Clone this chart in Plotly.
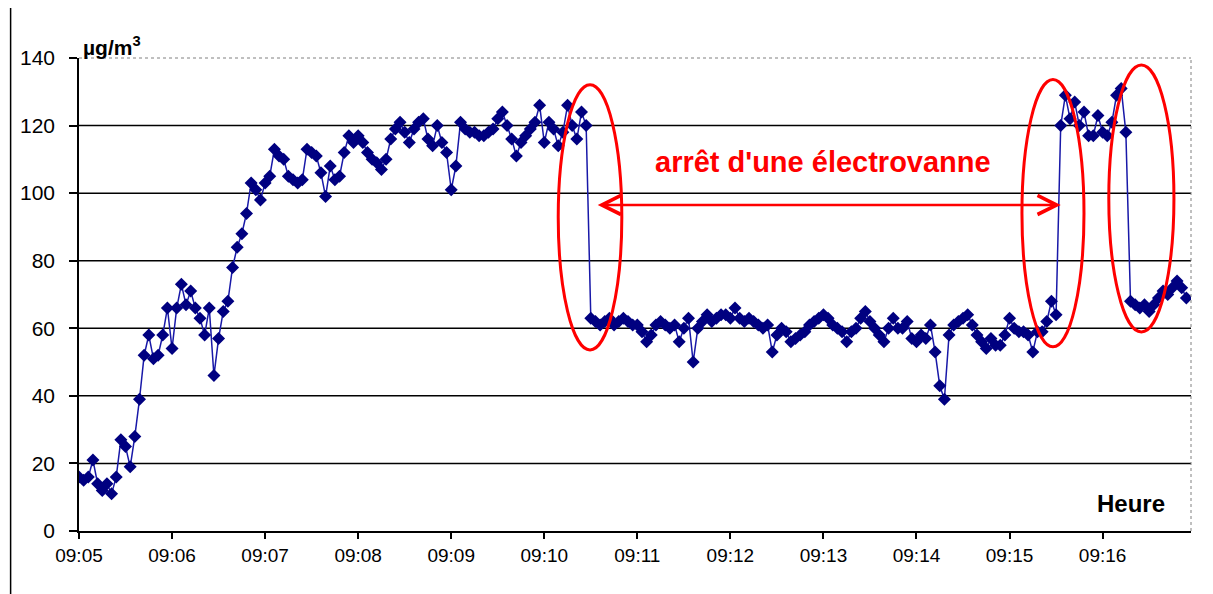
import numpy as np
import pandas as pd
import plotly.graph_objects as go

# Concentration readings (µg/m3), one every 3 s, grouped by minute
m0905 = [16, 15, 16, 21, 14, 12, 14, 11, 16, 27, 25, 19, 28, 39, 52, 58, 51, 52, 58, 66]
m0906 = [54, 66, 73, 67, 71, 66, 63, 58, 66, 46, 57, 65, 68, 78, 84, 88, 94, 103, 101, 98]
m0907 = [103, 105, 113, 111, 110, 105, 104, 103, 104, 113, 112, 111, 106, 99, 108, 104, 105, 112, 117, 115]
m0908 = [117, 115, 112, 110, 109, 107, 110, 116, 119, 121, 118, 115, 119, 121, 122, 116, 114, 120, 115, 112]
m0909 = [101, 108, 121, 119, 118, 118, 117, 117, 118, 119, 122, 124, 120, 116, 111, 115, 117, 119, 121, 126]
m0910 = [115, 121, 119, 114, 118, 126, 120, 116, 124, 120, 63, 62, 61, 62, 63, 61, 62, 63, 62, 61]
m0911 = [61, 59, 56, 58, 61, 62, 61, 60, 61, 56, 60, 63, 50, 60, 62, 64, 62, 63, 64, 64]
m0912 = [63, 66, 63, 62, 63, 62, 61, 60, 61, 53, 58, 60, 59, 56, 57, 58, 59, 61, 62, 63]
m0913 = [64, 63, 61, 60, 59, 56, 59, 60, 63, 65, 62, 60, 58, 56, 60, 63, 60, 60, 62, 57]
m0914 = [56, 58, 57, 61, 53, 43, 39, 58, 61, 62, 63, 64, 61, 58, 56, 54, 57, 55, 55, 58]
m0915 = [63, 60, 59, 59, 58, 53, 59, 59, 62, 68, 64, 120, 129, 122, 127, 120, 124, 117, 117, 123]
m0916 = [118, 117, 121, 129, 131, 118, 68, 67, 66, 67, 65, 67, 69, 71, 70, 72, 74, 72, 69]

start_time = "2024-01-01 09:05:00"
end_time = "2024-01-01 09:16:57"
step_seconds = 3
y_ticks = [0, 20, 40, 60, 80, 100, 120, 140]
grid_values = [20, 40, 60, 80, 100, 120]

values = m0905 + m0906 + m0907 + m0908 + m0909 + m0910 + m0911 + m0912 + m0913 + m0914 + m0915 + m0916
times = pd.Timestamp(start_time) + pd.to_timedelta(np.arange(len(values)) * step_seconds, unit="s")

FONT = "Liberation Sans, Arial, sans-serif"
NAVY = "#000080"
RED = "#ff0000"

fig = go.Figure()
fig.add_trace(go.Scatter(
    x=times, y=values, mode="lines+markers",
    line=dict(color="#1818a8", width=1.5),
    marker=dict(symbol="diamond", size=10, color=NAVY, line=dict(width=0)),
    showlegend=False, hoverinfo="skip",
))

shapes = []
for g in grid_values:
    shapes.append(dict(type="line", xref="paper", yref="y", x0=0, x1=1, y0=g, y1=g,
                       line=dict(color="black", width=1.5), layer="below"))
# dotted plot-area border (top and right)
shapes.append(dict(type="line", xref="paper", yref="paper", x0=0, x1=1, y0=1, y1=1,
                   line=dict(color="#808080", width=1, dash="dot")))
shapes.append(dict(type="line", xref="paper", yref="paper", x0=1, x1=1, y0=0, y1=1,
                   line=dict(color="#808080", width=1, dash="dot")))
# outer frame left edge
shapes.append(dict(type="line", xref="paper", yref="paper", x0=-0.0615, x1=-0.0615, y0=-0.16, y1=1.12,
                   line=dict(color="black", width=1.5)))
# red ellipses
ellipses = [
    ("2024-01-01 09:10:09", "2024-01-01 09:10:50", 53.6, 132.1),
    ("2024-01-01 09:15:08", "2024-01-01 09:15:48", 54.5, 133.6),
    ("2024-01-01 09:16:04", "2024-01-01 09:16:46", 58.9, 137.9),
]
for x0, x1, y0, y1 in ellipses:
    shapes.append(dict(type="circle", xref="x", yref="y", x0=x0, x1=x1, y0=y0, y1=y1,
                       line=dict(color=RED, width=3)))

annotations = [
    dict(x="2024-01-01 09:15:33", y=96.5, ax="2024-01-01 09:10:33.5", ay=96.5,
         xref="x", yref="y", axref="x", ayref="y", text="", showarrow=True,
         arrowside="end+start", arrowhead=5, startarrowhead=5, arrowsize=1.5,
         startarrowsize=1.5, arrowwidth=2.5, arrowcolor=RED, standoff=0, startstandoff=0),
    dict(x="2024-01-01 09:12:59.6", y=109.3, xref="x", yref="y",
         text="<b>arrêt d'une électrovanne</b>", showarrow=False,
         font=dict(family=FONT, size=29, color=RED), xanchor="center", yanchor="middle"),
    dict(x=0.0018, y=1.025, xref="paper", yref="paper", text="<b>µg/m<sup>3</sup></b>",
         showarrow=False, font=dict(family=FONT, size=21, color="black"),
         xanchor="left", yanchor="middle"),
    dict(x=0.946, y=0.059, xref="paper", yref="paper", text="<b>Heure</b>",
         showarrow=False, font=dict(family=FONT, size=24, color="black"),
         xanchor="center", yanchor="middle"),
]

# the page adds an 8 px body margin, so margins are set 8 px tighter on the left/top
fig.update_layout(
    width=1213, height=594,
    margin=dict(l=69, r=30, t=50, b=71),
    paper_bgcolor="white", plot_bgcolor="white",
    shapes=shapes, annotations=annotations,
    font=dict(family=FONT, color="black"),
)
fig.update_xaxes(
    type="date", range=[start_time, end_time], dtick=60000, tick0=start_time,
    tickformat="%H:%M", showgrid=False, zeroline=False,
    showline=True, linecolor="black", linewidth=1.5,
    ticks="outside", ticklen=6, tickwidth=1.5, tickcolor="black",
    tickfont=dict(family=FONT, size=19, color="black"),
)
fig.update_yaxes(
    range=[0, 140], tickvals=y_ticks, showgrid=False, zeroline=False,
    showline=True, linecolor="black", linewidth=1.5,
    ticks="outside", ticklen=8, tickwidth=1.5, tickcolor="black",
    tickfont=dict(family=FONT, size=21, color="black"), ticklabelstandoff=10,
)

fig.write_html("out.html")
